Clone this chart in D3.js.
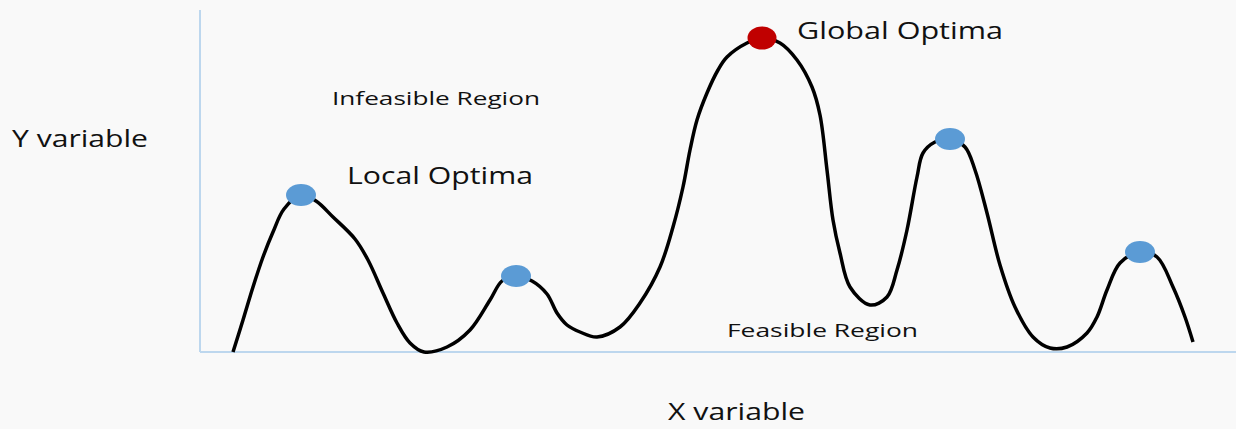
<!DOCTYPE html>
<html>
<head>
<meta charset="utf-8">
<script src="https://cdn.jsdelivr.net/npm/d3@7"></script>
<style>
  body { margin: 0; background: #f9f9f9; }
  svg { display: block; }
  text { font-family: "Open Sans", sans-serif; fill: #111; }
</style>
</head>
<body>
<svg width="1236" height="429"></svg>
<script>
// curve (offsets from the axis origin)
const curveX = [33,43,53,63,73,84,101,116,133,155,168,183,197,210,224,247,270,290,302,
  316,332,347,357,367,380,397,420,440,460,473,483,490,497,507,518,527,547,562,
  580,597,612,620,627,633,640,650,670,687,697,707,717,723,735,750,765,775,787,800,
  815,833,850,867,887,897,907,920,940,957,973,985,993];
const curveY = [0,32,65,95,120,143,157,151,135,113,92,59,29,9,0,5,22,52,71,
  76,71,58,39,27,20,15,25,49,85,125,165,202,232,259,282,295,309,314,
  309,292,265,237,182,132,99,65,47,55,82,122,175,199,210,213,205,182,139,87,
  45,15,4,5,19,35,62,89,100,95,65,35,10];

const localX = [101, 316, 750, 940];
const localY = [157, 76, 213, 100];
const globalX = [562];
const globalY = [314];

const svg = d3.select('svg');

const x = d3.scaleLinear().domain([0, 1036]).range([200, 1236]);
const y = d3.scaleLinear().domain([0, 342]).range([352, 10]);

// axes (plain light blue lines, no ticks)
svg.append('line')
  .attr('x1', x(0)).attr('x2', x(0))
  .attr('y1', y(0)).attr('y2', y(342))
  .attr('stroke', '#bdd7ee').attr('stroke-width', 2);
svg.append('line')
  .attr('x1', x(0)).attr('x2', x(1036))
  .attr('y1', y(0)).attr('y2', y(0))
  .attr('stroke', '#bdd7ee').attr('stroke-width', 2);

const pts = curveX.map((d, i) => [d, curveY[i]]);
const line = d3.line()
  .x(d => x(d[0]))
  .y(d => y(d[1]))
  .curve(d3.curveCatmullRom.alpha(0.5));

svg.append('path')
  .datum(pts)
  .attr('d', line)
  .attr('fill', 'none')
  .attr('stroke', '#000')
  .attr('stroke-width', 3.5);

svg.selectAll('ellipse.local')
  .data(localX.map((d, i) => [d, localY[i]]))
  .enter().append('ellipse')
    .attr('class', 'local')
    .attr('cx', d => x(d[0]))
    .attr('cy', d => y(d[1]))
    .attr('rx', 15).attr('ry', 11)
    .attr('fill', '#5b9bd5');

svg.selectAll('ellipse.global')
  .data(globalX.map((d, i) => [d, globalY[i]]))
  .enter().append('ellipse')
    .attr('class', 'global')
    .attr('cx', d => x(d[0]))
    .attr('cy', d => y(d[1]))
    .attr('rx', 14.5).attr('ry', 11.5)
    .attr('fill', '#c00000');

// labels: [text, x, y, size, width]
const labels = [
  ['Y variable', 12, 147, 23, 136],
  ['X variable', 668, 420, 23, 137],
  ['Global Optima', 797, 39, 24, 206],
  ['Local Optima', 347, 184, 24, 186],
  ['Infeasible Region', 332, 105, 19, 208],
  ['Feasible Region', 727, 337, 19, 191]
];

svg.selectAll('text.lbl')
  .data(labels)
  .enter().append('text')
    .attr('class', 'lbl')
    .attr('x', d => d[1])
    .attr('y', d => d[2])
    .attr('font-size', d => d[3])
    .attr('textLength', d => d[4])
    .attr('lengthAdjust', 'spacingAndGlyphs')
    .text(d => d[0]);
</script>
</body>
</html>
